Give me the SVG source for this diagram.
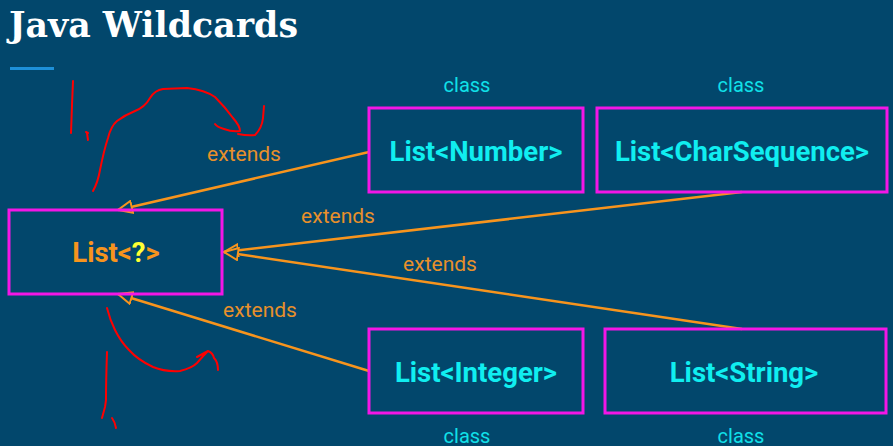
<svg xmlns="http://www.w3.org/2000/svg" width="893" height="446" viewBox="0 0 893 446">
<defs>
<style>
.box{fill:none;stroke:#f316e6;stroke-width:3}
.cls{font-family:Roboto,"Liberation Sans",sans-serif;font-weight:bold;font-size:27.5px;fill:#10eef0;text-anchor:middle}
.lbl{font-family:Roboto,"Liberation Sans",sans-serif;font-size:21px;fill:#e8902a;text-anchor:middle}
.cl{font-family:Roboto,"Liberation Sans",sans-serif;font-size:20px;fill:#10e0e8;text-anchor:middle}
.edge{stroke:#f7941d;stroke-width:2.5;fill:none}
.ink{stroke:#f00;stroke-width:2;fill:none;stroke-linecap:round;stroke-linejoin:round}
</style>
<marker id="tri" viewBox="0 0 16 14" refX="15" refY="7" markerWidth="16" markerHeight="14" markerUnits="userSpaceOnUse" orient="auto">
<path d="M1,1 L15,7 L1,13 Z" fill="#02476c" stroke="#f7941d" stroke-width="2"/>
</marker>
</defs>
<rect width="893" height="446" fill="#02476c"/>
<text x="9" y="37" font-family="'DejaVu Serif',serif" font-weight="bold" font-size="36" fill="#ffffff" textLength="289" lengthAdjust="spacingAndGlyphs">Java Wildcards</text>
<line x1="10" y1="68.500" x2="54" y2="68.500" stroke="#1e90d8" stroke-width="3"/>

<g id="connectors">
<line class="edge" x1="369" y1="152" x2="118" y2="210" marker-end="url(#tri)"/>
<line class="edge" x1="742" y1="192" x2="224" y2="252" marker-end="url(#tri)"/>
<line class="edge" x1="742" y1="329" x2="224" y2="252" marker-end="url(#tri)"/>
<line class="edge" x1="369" y1="371" x2="118" y2="294" marker-end="url(#tri)"/>
<text class="lbl" x="244" y="161">extends</text>
<text class="lbl" x="338" y="223">extends</text>
<text class="lbl" x="440" y="271">extends</text>
<text class="lbl" x="260" y="317">extends</text>
</g>

<g id="list-wild">
<rect class="box" x="9" y="210" width="213" height="84"/>
<text x="116" y="262" font-family="Roboto,'Liberation Sans',sans-serif" font-weight="bold" font-size="27.5" fill="#f7941d" text-anchor="middle">List&lt;<tspan fill="#ffff33">?</tspan>&gt;</text>
</g>
<g id="list-number">
<rect class="box" x="369" y="108" width="214" height="84"/>
<text class="cls" x="476" y="161">List&lt;Number&gt;</text>
<text class="cl" x="467" y="92">class</text>
</g>
<g id="list-charsequence">
<rect class="box" x="597" y="108" width="290" height="84"/>
<text class="cls" x="742" y="161">List&lt;CharSequence&gt;</text>
<text class="cl" x="741" y="92">class</text>
</g>
<g id="list-integer">
<rect class="box" x="369" y="329" width="214" height="84"/>
<text class="cls" x="476" y="382">List&lt;Integer&gt;</text>
<text class="cl" x="467" y="443">class</text>
</g>
<g id="list-string">
<rect class="box" x="605" y="329" width="281" height="84"/>
<text class="cls" x="744" y="382">List&lt;String&gt;</text>
<text class="cl" x="741" y="443">class</text>
</g>

<g id="ink">
<path class="ink" d="M73,81 L72,105 L71,133"/>
<path class="ink" d="M86,132 L88,133 M87,133 L88,140"/>
<path class="ink" d="M93,191 Q98,182 100,170 Q104,150 108,138 Q111,126 117,121 Q125,115 135,111 Q145,107 150,98 Q155,90 163,89 L187,88 Q205,90 215,97 Q225,107 233,118 Q240,126 240,131 Q232,132 224,129 Q217,127 215,124"/>
<path class="ink" d="M238,134 Q248,136 255,135 Q262,128 263,118 L264,106"/>
<path class="ink" d="M107,308 Q110,320 115,330 Q121,342 129,350 Q138,360 153,367 Q165,372 180,371 Q192,368 197,363 Q203,356 208,351 M197,357 L208,351 Q213,353 214,358 Q218,362 218,370"/>
<path class="ink" d="M107,352 Q106,380 106,400 L105,407 L102,418"/>
<path class="ink" d="M112,418 Q115,422 116,428"/>
</g>
</svg>
